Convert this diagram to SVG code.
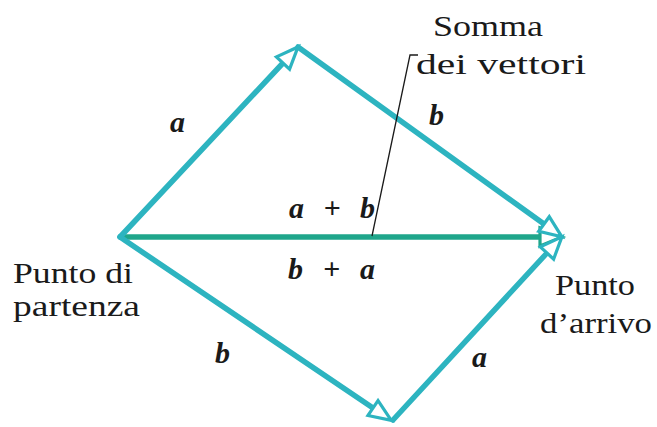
<svg xmlns="http://www.w3.org/2000/svg" width="657" height="427" viewBox="0 0 657 427">
<style>
.vec{stroke:#2db4c0;stroke-width:5.5;fill:none;stroke-linecap:round}
.sum{stroke:#1fa68b;stroke-width:5.5;fill:none}
.lbl{font-size:30px;fill:#1a1a1a}
.var{font-size:30px;font-weight:bold;font-style:italic;fill:#1a1a1a}
.lead{stroke:#1a1a1a;stroke-width:1.3;fill:none}
</style>
<defs>
<marker id="ah" markerUnits="userSpaceOnUse" markerWidth="30" markerHeight="30" refX="0" refY="0" viewBox="-3 -13 30 26" orient="auto" overflow="visible">
<path d="M0,-9 L22,0 L0,9 Z" fill="#ffffff" stroke="#2db4c0" stroke-width="3.2" stroke-linejoin="miter"/>
</marker>
<marker id="ahs" markerUnits="userSpaceOnUse" markerWidth="30" markerHeight="30" refX="0" refY="0" viewBox="-3 -13 30 26" orient="auto" overflow="visible">
<path d="M0,-9 L22,0 L0,9 Z" fill="#ffffff" stroke="#1fa68b" stroke-width="3.2" stroke-linejoin="miter"/>
</marker>
</defs>
<rect width="657" height="427" fill="#ffffff"/>
<g id="connectors">
<line id="sum" class="sum" x1="120" y1="237" x2="540" y2="237" marker-end="url(#ahs)"/>
<line id="a1" class="vec" x1="120" y1="237" x2="283" y2="63" marker-end="url(#ah)"/>
<line id="b1" class="vec" x1="298" y1="47" x2="544" y2="224" marker-end="url(#ah)"/>
<line id="b2" class="vec" x1="120" y1="237" x2="373" y2="408" marker-end="url(#ah)"/>
<line id="a2" class="vec" x1="393" y1="420" x2="547" y2="253" marker-end="url(#ah)"/>
<polyline id="leader" class="lead" points="372,236 410,55 418,55"/>
</g>
<g font-family="'Liberation Serif', 'Times New Roman', 'DejaVu Serif', serif">
<g id="start">
<text class="lbl" x="13" y="283" textLength="120" lengthAdjust="spacingAndGlyphs">Punto di</text>
<text class="lbl" x="13" y="316" textLength="127" lengthAdjust="spacingAndGlyphs">partenza</text>
</g>
<g id="end">
<text class="lbl" x="555" y="295" textLength="80" lengthAdjust="spacingAndGlyphs">Punto</text>
<text class="lbl" x="540" y="333" textLength="112" lengthAdjust="spacingAndGlyphs">d’arrivo</text>
</g>
<g id="sumlabel">
<text class="lbl" x="433" y="36" textLength="110" lengthAdjust="spacingAndGlyphs">Somma</text>
<text class="lbl" x="416" y="74" textLength="170" lengthAdjust="spacingAndGlyphs">dei vettori</text>
</g>
<g id="labels">
<text class="var" x="170" y="132">a</text>
<text class="var" x="429" y="125">b</text>
<text class="var" x="289" y="218" textLength="86" lengthAdjust="spacing">a + b</text>
<text class="var" x="288" y="279" textLength="87" lengthAdjust="spacing">b + a</text>
<text class="var" x="215" y="363">b</text>
<text class="var" x="472" y="367">a</text>
</g>
</g>
</svg>
